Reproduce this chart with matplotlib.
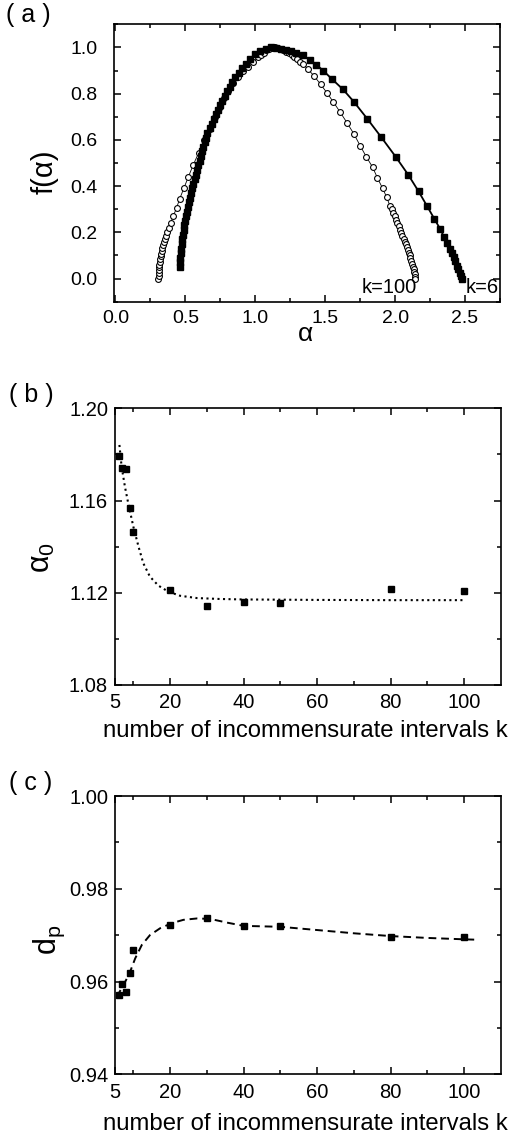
import matplotlib
matplotlib.use("Agg")
import matplotlib.pyplot as plt
from matplotlib.ticker import MultipleLocator, FixedLocator

plt.rcParams['font.family'] = ['Liberation Sans', 'DejaVu Sans']
plt.rcParams['mathtext.fontset'] = 'custom'
plt.rcParams['mathtext.rm'] = 'Liberation Sans'
plt.rcParams['mathtext.it'] = 'Liberation Sans'

# (a) f(alpha) spectra, k=6 (filled squares) and k=100 (open circles)
alpha_k6 = [0.462, 0.463, 0.465, 0.467, 0.470, 0.474, 0.478, 0.483, 0.488, 0.494,
            0.500, 0.506, 0.513, 0.520, 0.527, 0.534, 0.542, 0.550, 0.558, 0.567,
            0.575, 0.584, 0.593, 0.602, 0.611, 0.620, 0.629, 0.638, 0.648, 0.658,
            0.676, 0.690, 0.704, 0.718, 0.733, 0.748, 0.764, 0.781, 0.798, 0.816,
            0.836, 0.858, 0.881, 0.906, 0.933, 0.962, 0.997, 1.035, 1.075, 1.115,
            1.150, 1.185, 1.220, 1.255, 1.290, 1.342, 1.390, 1.435, 1.487, 1.547,
            1.628, 1.705, 1.800, 1.898, 2.003, 2.094, 2.168, 2.230, 2.280, 2.321,
            2.350, 2.373, 2.390, 2.405, 2.418, 2.430, 2.442, 2.453, 2.463, 2.470, 2.476]
f_k6 = [0.05, 0.07, 0.09, 0.11, 0.13, 0.15, 0.17, 0.19, 0.21, 0.23,
        0.25, 0.27, 0.29, 0.31, 0.33, 0.35, 0.37, 0.39, 0.41, 0.43,
        0.45, 0.47, 0.49, 0.51, 0.53, 0.55, 0.57, 0.59, 0.61, 0.63,
        0.65, 0.67, 0.69, 0.71, 0.73, 0.75, 0.77, 0.79, 0.81, 0.83,
        0.85, 0.87, 0.89, 0.91, 0.93, 0.95, 0.97, 0.985, 0.995, 1.0,
        0.999, 0.995, 0.99, 0.983, 0.975, 0.966, 0.945, 0.926, 0.899, 0.864,
        0.818, 0.765, 0.692, 0.614, 0.528, 0.449, 0.377, 0.312, 0.259, 0.216,
        0.180, 0.152, 0.130, 0.110, 0.092, 0.074, 0.056, 0.040, 0.025, 0.012, 0.0]

alpha_k100 = [0.308, 0.309, 0.310, 0.311, 0.313, 0.315, 0.317, 0.320, 0.323, 0.326,
              0.330, 0.334, 0.339, 0.345, 0.352, 0.360, 0.370, 0.381, 0.395, 0.415,
              0.437, 0.459, 0.489, 0.521, 0.556, 0.596, 0.636, 0.676, 0.713, 0.747,
              0.778, 0.807, 0.840, 0.874, 0.910, 0.946, 0.982, 1.019, 1.040, 1.060,
              1.080, 1.100, 1.120, 1.140, 1.160, 1.180, 1.200, 1.220, 1.240, 1.260,
              1.280, 1.300, 1.320, 1.342, 1.378, 1.421, 1.468, 1.512, 1.557, 1.605,
              1.655, 1.705, 1.750, 1.793, 1.839, 1.874, 1.910, 1.939, 1.963, 1.975,
              1.987, 1.997, 2.006, 2.016, 2.025, 2.034, 2.044, 2.052, 2.060, 2.068,
              2.075, 2.083, 2.090, 2.097, 2.104, 2.110, 2.116, 2.122, 2.127, 2.132,
              2.136, 2.139, 2.141, 2.142]
f_k100 = [0.000, 0.012, 0.024, 0.036, 0.048, 0.060, 0.072, 0.084, 0.096, 0.108,
          0.120, 0.132, 0.144, 0.158, 0.170, 0.183, 0.200, 0.219, 0.241, 0.272,
          0.305, 0.344, 0.390, 0.439, 0.491, 0.545, 0.598, 0.649, 0.699, 0.742,
          0.780, 0.813, 0.845, 0.872, 0.896, 0.917, 0.938, 0.959, 0.969, 0.978,
          0.987, 0.994, 0.999, 1.000, 0.998, 0.994, 0.989, 0.982, 0.975, 0.966,
          0.957, 0.948, 0.939, 0.928, 0.905, 0.876, 0.840, 0.804, 0.765, 0.722,
          0.675, 0.626, 0.575, 0.528, 0.482, 0.435, 0.391, 0.353, 0.315, 0.300,
          0.285, 0.270, 0.255, 0.240, 0.226, 0.212, 0.197, 0.184, 0.172, 0.160,
          0.148, 0.136, 0.124, 0.112, 0.100, 0.088, 0.076, 0.064, 0.052, 0.040,
          0.029, 0.018, 0.008, 0.000]

# (b) alpha_0 vs k
k_pts = [6, 7, 8, 9, 10, 20, 30, 40, 50, 80, 100]
alpha0 = [1.1794, 1.1742, 1.1735, 1.1569, 1.1462, 1.1210, 1.1144, 1.1158, 1.1157, 1.1216, 1.1209]
k_fit_b = [6.2, 6.8, 7.7, 8.6, 10.0, 11.4, 12.7, 14.5, 16.8, 19.5, 22.7, 27.3, 33.6, 40, 50, 60, 80, 100]
alpha0_fit = [1.1841, 1.1747, 1.1660, 1.1588, 1.1486, 1.1400, 1.1328, 1.1270, 1.1231, 1.1205,
              1.1187, 1.1177, 1.1173, 1.1171, 1.1170, 1.1169, 1.1168, 1.1168]

# (c) d_p vs k
dp = [0.9571, 0.9595, 0.9577, 0.9619, 0.9667, 0.9722, 0.9736, 0.9720, 0.9719, 0.9697, 0.9695]
k_fit_c = [5.5, 8.0, 9.1, 10.5, 12.3, 14.5, 17.3, 20.5, 23.6, 27.3, 30.9, 35.5, 40, 45, 50, 60, 70, 80, 90, 100, 104]
dp_fit = [0.9567, 0.9603, 0.9621, 0.9650, 0.9679, 0.9700, 0.9715, 0.9726, 0.9733, 0.9736, 0.9735,
          0.9727, 0.9720, 0.9719, 0.9718, 0.9711, 0.9704, 0.9698, 0.9694, 0.9691, 0.9690]

W, H = 518, 1137
fig = plt.figure(figsize=(W / 100, H / 100), dpi=100)


def box(l, r, t, b):
    return [l / W, 1 - b / H, (r - l) / W, (b - t) / H]


def style(ax):
    ax.tick_params(which='both', direction='in', top=True, right=True, labelsize=14.5, width=1.1)
    ax.tick_params(which='major', length=5)
    ax.tick_params(which='minor', length=3)
    for s in ax.spines.values():
        s.set_linewidth(1.2)


ax1 = fig.add_axes(box(114, 500, 24.3, 301.7))
ax1.plot(alpha_k100, f_k100, '-', color='black', lw=0.6, marker='o', ms=4.2,
         mfc='white', mec='black', mew=0.8)
ax1.plot(alpha_k6, f_k6, '-', color='black', lw=1.3, marker='s', ms=3.8,
         mfc='black', mec='black')
ax1.set_xlim(-0.01, 2.75)
ax1.set_ylim(-0.1, 1.1)
ax1.xaxis.set_major_locator(MultipleLocator(0.5))
ax1.xaxis.set_minor_locator(MultipleLocator(0.25))
ax1.yaxis.set_major_locator(MultipleLocator(0.2))
ax1.yaxis.set_minor_locator(MultipleLocator(0.1))
ax1.xaxis.set_major_formatter(plt.FormatStrFormatter('%.1f'))
ax1.yaxis.set_major_formatter(plt.FormatStrFormatter('%.1f'))
style(ax1)
ax1.tick_params(axis='both', labelsize=14)
ax1.tick_params(axis='y', pad=12)
ax1.tick_params(axis='x', pad=6)
ax1.set_xlabel('α', fontsize=19, va='center')
ax1.xaxis.set_label_coords(0.495, -0.115)
ax1.set_ylabel('f(α)', fontsize=21, va='center')
ax1.yaxis.set_label_coords(-0.18, 0.468)
ax1.text(1.956, -0.04, 'k=100', fontsize=14.5, ha='center', va='center')
ax1.text(2.62, -0.04, 'k=6', fontsize=14.5, ha='center', va='center')

ax2 = fig.add_axes(box(115, 501, 408.3, 685))
ax2.plot(k_fit_b, alpha0_fit, ':', color='black', lw=1.5)
ax2.plot(k_pts, alpha0, 's', color='black', ms=4.2)
ax2.set_xlim(5, 110)
ax2.set_ylim(1.08, 1.20)
ax2.xaxis.set_major_locator(FixedLocator([5, 20, 40, 60, 80, 100]))
ax2.xaxis.set_minor_locator(FixedLocator([10, 30, 50, 70, 90]))
ax2.yaxis.set_major_locator(MultipleLocator(0.04))
ax2.yaxis.set_minor_locator(MultipleLocator(0.02))
ax2.yaxis.set_major_formatter(plt.FormatStrFormatter('%.2f'))
style(ax2)
ax2.tick_params(axis='y', pad=5)
ax2.tick_params(axis='x', pad=6)
ax2.set_xlabel('number of incommensurate intervals k', fontsize=17.2, va='center')
ax2.xaxis.set_label_coords(0.492, -0.166)
ax2.set_ylabel(r'$\alpha_0$', fontsize=22, va='center')
ax2.yaxis.set_label_coords(-0.19, 0.459)

ax3 = fig.add_axes(box(115, 501, 796, 1074.3))
ax3.plot(k_fit_c, dp_fit, color='black', lw=1.4, linestyle=(0, (4, 2.5)))
ax3.plot(k_pts, dp, 's', color='black', ms=4.2)
ax3.set_xlim(5, 110)
ax3.set_ylim(0.94, 1.00)
ax3.xaxis.set_major_locator(FixedLocator([5, 20, 40, 60, 80, 100]))
ax3.xaxis.set_minor_locator(FixedLocator([10, 30, 50, 70, 90]))
ax3.yaxis.set_major_locator(MultipleLocator(0.02))
ax3.yaxis.set_minor_locator(MultipleLocator(0.01))
ax3.yaxis.set_major_formatter(plt.FormatStrFormatter('%.2f'))
style(ax3)
ax3.tick_params(axis='y', pad=5)
ax3.tick_params(axis='x', pad=6)
ax3.set_xlabel('number of incommensurate intervals k', fontsize=17.2, va='center')
ax3.xaxis.set_label_coords(0.492, -0.179)
ax3.set_ylabel(r'd$_\mathregular{p}$', fontsize=22, va='center')
ax3.yaxis.set_label_coords(-0.171, 0.483)

fig.text(28 / W, 1 - 15 / H, '( a )', fontsize=18, ha='center', va='center')
fig.text(31 / W, 1 - 395 / H, '( b )', fontsize=18, ha='center', va='center')
fig.text(31 / W, 1 - 783 / H, '( c )', fontsize=18, ha='center', va='center')

fig.savefig('out.png', dpi=100)
